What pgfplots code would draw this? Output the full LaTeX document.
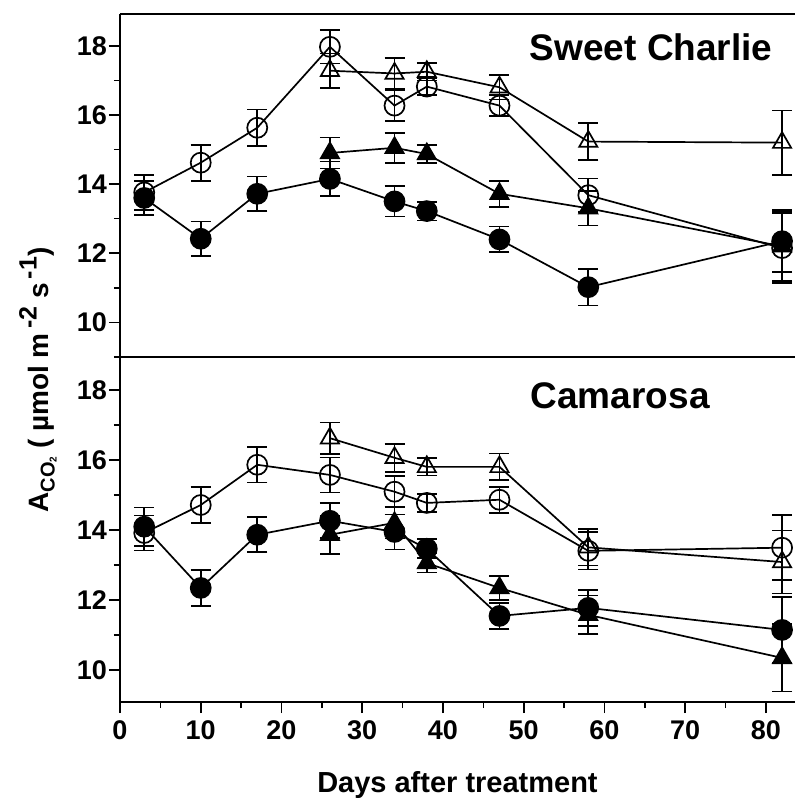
\documentclass[border=0pt]{standalone}
\usepackage{fontspec}
\setmainfont{Liberation Sans}
\usepackage{pgfplots}
\usepackage{pgfplotstable}
\pgfplotsset{compat=1.18}

% Sweet Charlie
\pgfplotstableread{
x y e
3 13.76 0.50
10 14.62 0.52
17 15.63 0.53
26 17.97 0.48
34 16.27 0.45
38 16.82 0.25
47 16.27 0.30
58 13.68 0.48
82 12.15 1.00
}\scOC
\pgfplotstableread{
x y e
3 13.60 0.50
10 12.42 0.50
17 13.72 0.50
26 14.15 0.50
34 13.50 0.44
38 13.22 0.27
47 12.40 0.37
58 11.02 0.53
82 12.35 0.90
}\scFC
\pgfplotstableread{
x y e
26 17.28 0.50
34 17.20 0.44
38 17.25 0.25
47 16.80 0.35
58 15.23 0.54
82 15.20 0.93
}\scOT
\pgfplotstableread{
x y e
26 14.90 0.45
34 15.05 0.43
38 14.87 0.26
47 13.72 0.38
58 13.30 0.50
82 12.20 1.00
}\scFT
% Camarosa
\pgfplotstableread{
x y e
3 13.91 0.50
10 14.71 0.51
17 15.86 0.51
26 15.57 0.50
34 15.09 0.45
38 14.77 0.26
47 14.86 0.37
58 13.40 0.53
82 13.49 0.93
}\caOC
\pgfplotstableread{
x y e
3 14.09 0.55
10 12.34 0.51
17 13.86 0.50
26 14.26 0.50
34 13.94 0.50
38 13.46 0.27
47 11.54 0.37
58 11.77 0.51
82 11.14 0.95
}\caFC
\pgfplotstableread{
x y e
26 16.62 0.45
34 16.06 0.40
38 15.80 0.25
47 15.80 0.38
58 13.50 0.52
82 13.08 0.90
}\caOT
\pgfplotstableread{
x y e
26 13.86 0.55
34 14.20 0.45
38 13.05 0.27
47 12.34 0.35
58 11.57 0.55
82 10.34 0.96
}\caFT

\newcommand{\tickfont}{\fontsize{27bp}{32bp}\selectfont\bfseries}

\pgfplotsset{
  panel/.style={
    scale only axis, width=675bp, xmin=0, xmax=83.6,
    axis x line*=box, axis y line*=left,
    axis line style={line width=2bp, black},
    every tick/.style={line width=1.6bp, black},
    major tick length=11bp, minor tick length=6bp,
    tick align=outside, ytick pos=left, xtick pos=left,
    ytick={10,12,14,16,18}, minor ytick={9,11,13,15,17},
    /pgf/number format/assume math mode=true,
    yticklabel style={font=\tickfont, inner sep=2bp},
    xticklabel style={font=\tickfont, inner sep=3bp, yshift=-4bp},
    clip=false,
  },
  ser/.style={black, line width=1.7bp, mark size=10bp,
    mark options={solid, line width=1.7bp},
    error bars/y dir=both, error bars/y explicit,
    error bars/error bar style={line width=1.7bp, black},
    error bars/error mark options={line width=1.7bp, black, mark size=10bp, rotate=90}},
}

\begin{document}
\begin{tikzpicture}
\path[use as bounding box] (-120bp,-98bp) rectangle (675bp,702bp);

\begin{axis}[panel, name=bot, at={(0,0)}, anchor=south west, height=345bp,
  ymin=9.08, ymax=18.94,
  xtick={0,10,...,80}, minor xtick={5,15,...,75},
  xlabel={Days after treatment},
  xlabel style={font=\fontsize{29bp}{32bp}\selectfont\bfseries, at={(axis description cs:0.5,0)}, anchor=center, yshift=-83bp}]
\addplot[ser, mark=*, mark options={fill=black}] table[x=x,y=y,y error=e]{\caFC};
\addplot[ser, mark=triangle*, mark size=10.5bp, mark options={fill=black}] table[x=x,y=y,y error=e]{\caFT};
\addplot[ser, mark=o] table[x=x,y=y,y error=e]{\caOC};
\addplot[ser, mark=triangle, mark size=10.5bp] table[x=x,y=y,y error=e]{\caOT};
\node[font=\fontsize{37bp}{40bp}\selectfont\bfseries] at (axis description cs:0.741,0.887) {Camarosa};
\end{axis}

\begin{axis}[panel, name=top, at={(0,345bp)}, anchor=south west, height=343bp,
  ymin=9, ymax=18.92, xtick=\empty]
\addplot[ser, mark=*, mark options={fill=black}] table[x=x,y=y,y error=e]{\scFC};
\addplot[ser, mark=triangle*, mark size=10.5bp, mark options={fill=black}] table[x=x,y=y,y error=e]{\scFT};
\addplot[ser, mark=o] table[x=x,y=y,y error=e]{\scOC};
\addplot[ser, mark=triangle, mark size=10.5bp] table[x=x,y=y,y error=e]{\scOT};
\node[font=\fontsize{37bp}{40bp}\selectfont\bfseries] at (axis description cs:0.787,0.904) {Sweet Charlie};
\end{axis}

\node[rotate=90, font=\fontsize{28bp}{32bp}\selectfont\bfseries] at (-82bp,322bp)
 {A\raisebox{-6bp}{\fontsize{20bp}{22bp}\selectfont CO\raisebox{-2bp}{\fontsize{10bp}{12bp}\selectfont 2}}\ ( µmol m\raisebox{12bp}{\fontsize{25bp}{26bp}\selectfont\,-2} s\raisebox{12bp}{\fontsize{25bp}{26bp}\selectfont\,-1})};
\end{tikzpicture}
\end{document}
